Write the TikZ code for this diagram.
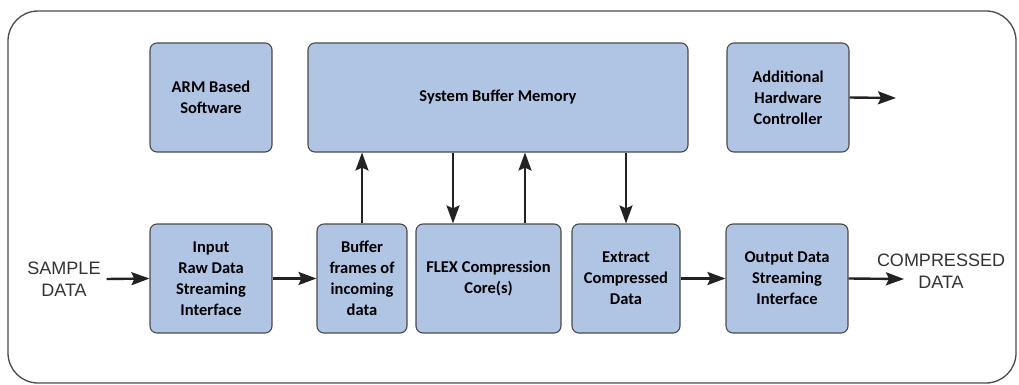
\documentclass[tikz,border=0pt]{standalone}
\usepackage{fontspec}
\setmainfont{Carlito}
\newfontfamily\labelfont{Liberation Sans}
\usetikzlibrary{arrows.meta}
\definecolor{boxfill}{HTML}{B0C4E4}
\definecolor{boxline}{HTML}{4A4A4A}
\definecolor{arrowcol}{HTML}{222222}
\begin{document}
\begin{tikzpicture}[x=1pt,y=-1pt,
  blk/.style={draw=boxline,line width=1.1pt,fill=boxfill,rounded corners=7pt,inner sep=0pt,
    font=\bfseries\fontsize{16.5}{21}\selectfont,align=center,text=black},
  conn/.style={draw=arrowcol,line width=2.4pt,-{Stealth[length=18pt,width=13pt,inset=3pt]}},
  ext/.style={font=\labelfont\fontsize{18}{22}\selectfont,align=center,text=black!80,inner sep=0pt}]
\useasboundingbox (0,0) rectangle (1019,385);
\draw[draw=boxline,line width=1.3pt,rounded corners=30pt] (8,11) rectangle (1016,383);
\node[blk,minimum width=122pt,minimum height=109pt] (arm) at (211,97.5) {ARM Based\\Software};
\node[blk,minimum width=380pt,minimum height=109pt] (sbm) at (498,97.5) {System Buffer Memory};
\node[blk,minimum width=122pt,minimum height=109pt] (ahc) at (788,97.5) {Additional\\Hardware\\Controller};
\node[blk,minimum width=122pt,minimum height=109pt] (inp) at (211,278.5) {Input\\Raw Data\\Streaming\\Interface};
\node[blk,minimum width=90pt,minimum height=109pt] (buf) at (362,278.5) {Buffer\\frames of\\incoming\\data};
\node[blk,minimum width=145pt,minimum height=109pt] (flex) at (488.5,278.5) {FLEX Compression\\Core(s)};
\node[blk,minimum width=108pt,minimum height=109pt] (extr) at (626,278.5) {Extract\\Compressed\\Data};
\node[blk,minimum width=122pt,minimum height=109pt] (outp) at (787,278.5) {Output Data\\Streaming\\Interface};
\node[ext] (sample) at (64,279) {SAMPLE\\DATA};
\node[ext] (comp) at (941,271) {COMPRESSED\\DATA};
\coordinate (ahcout) at (896,98);
\coordinate (compin) at (904,279);
\draw[conn] (sample.east)++(6pt,0) -- (inp.west);
\draw[conn] (inp.east) -- (buf.west);
\draw[conn] (buf.north) -- (buf.north |- sbm.south);
\draw[conn] (sbm.south -| 453,0) -- (453,224 |- flex.north);
\draw[conn] (flex.north -| 525,0) -- (525,0 |- sbm.south);
\draw[conn] (extr.north |- sbm.south) -- (extr.north);
\draw[conn] (extr.east) -- (outp.west);
\draw[conn] (outp.east) -- (compin);
\draw[conn] (ahc.east) -- (ahcout);
\end{tikzpicture}
\end{document}
